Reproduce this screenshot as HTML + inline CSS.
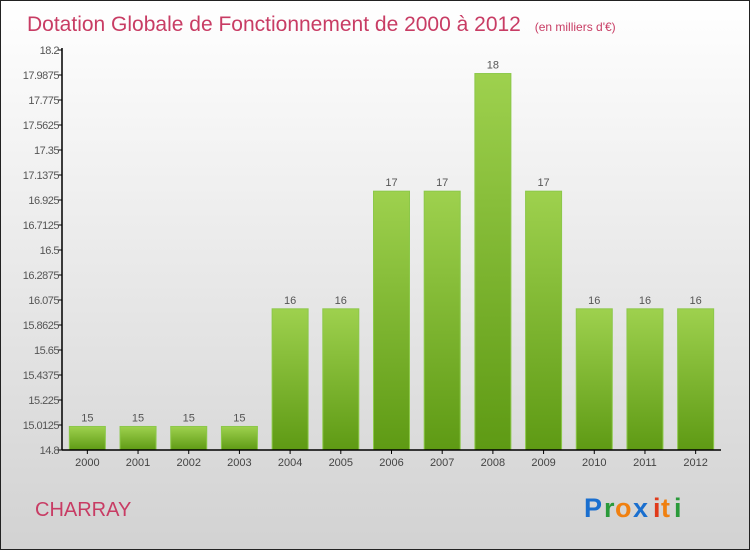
<!DOCTYPE html>
<html><head><meta charset="utf-8"><style>
body{margin:0;width:750px;height:550px;overflow:hidden;font-family:"Liberation Sans",sans-serif}
#wrap{position:absolute;left:0;top:0;width:748px;height:548px;border:1px solid #222;background:linear-gradient(#ffffff,#d2d2d2)}
</style></head><body>
<div id="wrap">
<svg id="svg" width="748" height="548" xmlns="http://www.w3.org/2000/svg">
<text x="26" y="30" font-size="21" fill="#c83c64">Dotation Globale de Fonctionnement de 2000 à 2012 <tspan font-size="12" dx="8">(en milliers d'€)</tspan></text>
<text x="34" y="515" font-size="20" fill="#c83c64">CHARRAY</text>
<g font-size="27" font-weight="bold" font-family="'Liberation Sans',sans-serif">
<text x="583" y="516" fill="#1a6fcf">P</text><text x="603" y="516" fill="#2a9a3a">r</text><text x="614" y="516" fill="#f08010">o</text><text x="632" y="516" fill="#1a6fcf">x</text><text x="652" y="516" fill="#e03a1a">i</text><text x="660" y="516" fill="#f08010">t</text><text x="673" y="516" fill="#2a9a3a">i</text>
</g>
<defs><linearGradient id="bg" x1="0" y1="0" x2="0" y2="1"><stop offset="0" stop-color="#9ed14e"/><stop offset="1" stop-color="#5e9a14"/></linearGradient></defs>
<g id="plot"></g>
</svg></div>
<script>
const categories=["2000","2001","2002","2003","2004","2005","2006","2007","2008","2009","2010","2011","2012"];
const values=[15,15,15,15,16,16,17,17,18,17,16,16,16];
const labels=["15","15","15","15","16","16","17","17","18","17","16","16","16"];
const ticks=["14.8","15.0125","15.225","15.4375","15.65","15.8625","16.075","16.2875","16.5","16.7125","16.925","17.1375","17.35","17.5625","17.775","17.9875","18.2"];
const X0=61,X1=720,Y0=449,Y1=49,VMIN=14.8,VMAX=18.2;
const y=v=>Y0-(v-VMIN)/(VMAX-VMIN)*(Y0-Y1);
const bw=(X1-X0)/categories.length;
const x=i=>X0+bw*(i+0.5);
const ns="http://www.w3.org/2000/svg",g=document.getElementById("plot");
function mk(t,a,txt){const e=document.createElementNS(ns,t);for(const k in a)e.setAttribute(k,a[k]);if(txt!==undefined)e.textContent=txt;g.appendChild(e);return e;}
ticks.forEach(t=>{const v=parseFloat(t),yy=y(v);
const l=mk("line",{x1:X0-4,x2:X0,y1:yy,y2:yy,stroke:"#000"});


const tx=mk("text",{x:X0-3,y:yy+4,"text-anchor":"end","font-size":"11",fill:"#555","letter-spacing":"-0.5"},t);

});
categories.forEach((c,i)=>{const cx=x(i),top=y(values[i]);
const r=mk("rect",{x:cx-18,y:top,width:36,height:Y0-top,fill:"url(#bg)",stroke:"#8cc84a","stroke-width":"1"});


const vl=mk("text",{x:cx,y:top-5,"text-anchor":"middle","font-size":"11",fill:"#555"},labels[i]);


const tl=mk("line",{x1:cx,x2:cx,y1:Y0,y2:Y0+4,stroke:"#000"});


const xl=mk("text",{x:cx,y:Y0+16,"text-anchor":"middle","font-size":"11",fill:"#444"},c);

});
const ya=mk("line",{x1:X0,x2:X0,y1:Y1-2,y2:Y0,stroke:"#000","stroke-width":"1.5"});


const xa=mk("line",{x1:X0,x2:X1,y1:Y0,y2:Y0,stroke:"#000","stroke-width":"1.5"});


</script></body></html>
